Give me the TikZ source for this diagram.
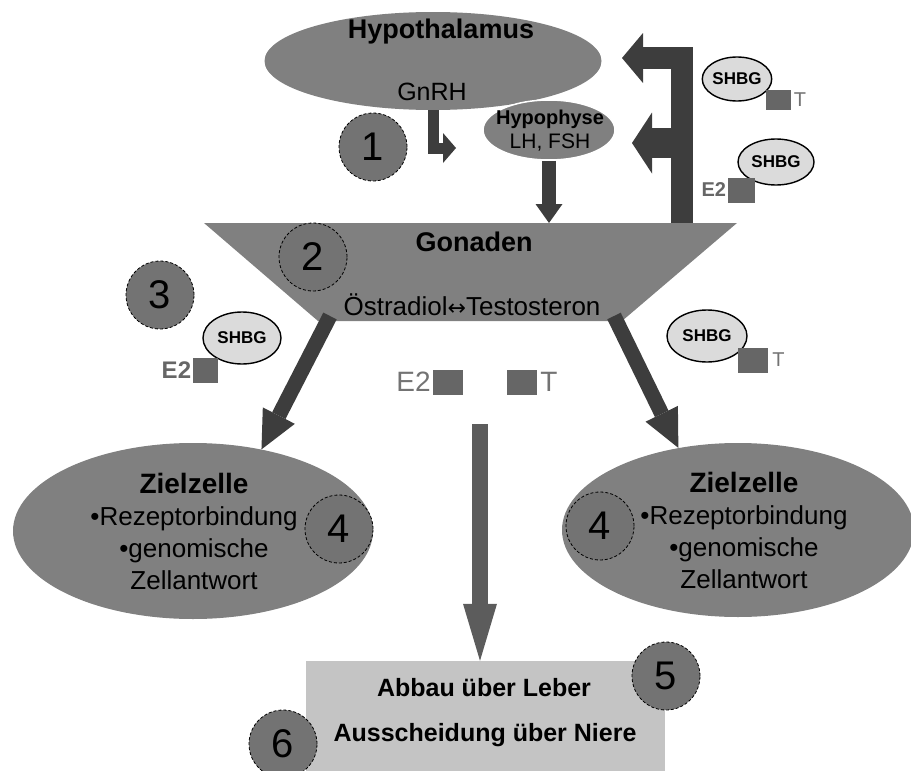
\documentclass[tikz,border=0pt]{standalone}
\usepackage{fontspec}
\setmainfont{Liberation Sans}
\newfontfamily\arrowfont{DejaVu Sans}
\usetikzlibrary{arrows.meta, positioning, shapes.geometric}
\definecolor{organgray}{gray}{0.5}
\definecolor{numgray}{gray}{0.45}
\definecolor{arrgray}{gray}{0.24}
\definecolor{midgray}{gray}{0.36}
\definecolor{shbggray}{gray}{0.86}
\definecolor{sqgray}{gray}{0.4}
\definecolor{labgray}{gray}{0.45}
\definecolor{boxgray}{gray}{0.77}
\tikzset{
  organ/.style={ellipse, fill=organgray, inner sep=0pt},
  num/.style={circle, draw=black, densely dashed, line width=0.8pt, fill=numgray, minimum size=68pt, inner sep=0pt, font=\fontsize{40}{40}\selectfont},
  shbg/.style={ellipse, draw=black, line width=1.4pt, fill=shbggray, inner sep=0pt, font=\fontsize{17}{17}\selectfont\bfseries},
  hsq/.style={fill=sqgray, inner sep=0pt, minimum height=25pt, minimum width=#1},
  hlab/.style={text=labgray, inner sep=1pt, font=\fontsize{#1}{#1}\selectfont},
  hlabb/.style={text=sqgray, inner sep=1pt, font=\fontsize{#1}{#1}\selectfont\bfseries},
  fat/.style={draw=arrgray, line width=#1},
}

\begin{document}
\begin{tikzpicture}[x=1pt, y=-1pt,
      bftxt/.style={font=\fontsize{#1}{#1}\selectfont\bfseries},
      rmtxt/.style={font=\fontsize{#1}{#1}\selectfont}]
    \useasboundingbox (0,0) rectangle (911,771);
    \node[organ, minimum width=337pt, minimum height=98pt] (hth) at (433,61) {};
    \node[organ, draw=white, line width=1.5pt, minimum width=132pt, minimum height=60pt] (hyp) at (549,130) {};
    \node[bftxt=27] (hthl) at (441,32) {Hypothalamus};
    \node[rmtxt=25] (gnrh) at (432,92) {GnRH};
    \node[align=center, font=\fontsize{21}{24}\selectfont] (hypl) at (550,131) {{\bfseries\fontsize{20}{24}\selectfont Hypophyse}\\LH, FSH};
    \coordinate (gtl) at (204,223);
    \coordinate (gtr) at (737,223);
    \coordinate (gbr) at (622,321);
    \coordinate (gbl) at (318,321);
    \fill[organgray] (gtl) -- (gtr) -- (gbr) -- (gbl) -- cycle;
    \node[bftxt=27] (gon) at (474,242) {Gonaden};
    \node[rmtxt=26] (oest) at (472,305) {Östradiol{\arrowfont\fontsize{22}{22}\selectfont ↔}Testosteron};
    \coordinate (gnend) at (456,148);
    \draw[fat=11pt, -{Triangle[length=13pt, width=30pt, line width=0pt]}] (hth.south) |- (gnend);
    \draw[fat=14pt, -{Triangle[length=19pt, width=27pt, line width=0pt]}] (hyp.south) -- (hyp.south |- gtl);
    \coordinate (fb0) at (682,223);
    \coordinate (fb1) at (622,58);
    \coordinate (fb2) at (632,143);
    \draw[fat=22pt, -{Triangle[length=21pt, width=50pt, line width=0pt]}] (fb0) |- (fb1);
    \draw[fat=30pt, -{Triangle[length=20pt, width=61pt, line width=0pt]}] (fb0 |- fb2) -- (fb2);
    \node[shbg, minimum width=68pt, minimum height=44pt] (s1) at (737,79) {SHBG};
    \node[hsq=25pt, minimum height=20pt] (q1) at (778,100) {};
    \node[hlab=20, right=2pt of q1] (t1) {T};
    \node[shbg, minimum width=76pt, minimum height=46pt] (s2) at (776,162) {SHBG};
    \node[hsq=27pt] (q2) at (741,190) {};
    \node[hlabb=20, left=0pt of q2] (e1) {E2};
    \node[shbg, minimum width=78pt, minimum height=52pt] (s3) at (242,338) {SHBG};
    \node[hsq=25pt] (q3) at (205,370) {};
    \node[hlabb=24, left=0pt of q3] (e2) {E2};
    \node[shbg, minimum width=80pt, minimum height=52pt] (s4) at (707,336) {SHBG};
    \node[hsq=30pt] (q4) at (753,360) {};
    \node[hlab=20, right=3pt of q4] (t2) {T};
    \node[hsq=30pt] (q5) at (448,382) {};
    \node[hlab=28, left=1pt of q5] (e3) {E2};
    \node[hsq=30pt] (q6) at (522,382) {};
    \node[hlab=28, right=2pt of q6] (t3) {T};
    \node[organ, minimum width=360pt, minimum height=176pt] (zl) at (193,531) {};
    \node[organ, minimum width=352pt, minimum height=174pt] (zr) at (738,530) {};
    \node[align=center, font=\fontsize{26}{32}\selectfont] (zlt) at (194,531) {{\bfseries\fontsize{28}{32}\selectfont Zielzelle}\\•Rezeptorbindung\\•genomische\\Zellantwort};
    \node[align=center, font=\fontsize{26}{32}\selectfont] (zrt) at (744,530) {{\bfseries\fontsize{28}{32}\selectfont Zielzelle}\\•Rezeptorbindung\\•genomische\\Zellantwort};
    \coordinate (gl) at (330,316);
    \coordinate (gr) at (614,316);
    \draw[fat=15pt, -{Triangle[length=38pt, width=36pt, line width=0pt]}] (gl) -- (zl.50);
    \draw[fat=15pt, -{Triangle[length=38pt, width=36pt, line width=0pt]}] (gr) -- (zr.126);
    \node[fill=boxgray, minimum width=359pt, minimum height=112pt, inner sep=0pt] (box) at (485.5,717) {};
    \coordinate (mtop) at (480,424);
    \draw[fat=16pt, draw=midgray, -{Triangle[length=57pt, width=34pt, line width=0pt]}] (mtop) -- (mtop |- box.north);
    \node[bftxt=25] (leb) at (484,688) {Abbau über Leber};
    \node[bftxt=25] (nie) at (485,735) {Ausscheidung über Niere};
    \node[num] (n1) at (373,147) {1};
    \node[num] (n2) at (313,257) {2};
    \node[num] (n3) at (160,295) {3};
    \node[num] (n4a) at (339,529) {4};
    \node[num] (n4b) at (600,526) {4};
    \node[num] (n5) at (666,676) {5};
    \node[num] (n6) at (283,744) {6};
  \end{tikzpicture}
\end{document}
